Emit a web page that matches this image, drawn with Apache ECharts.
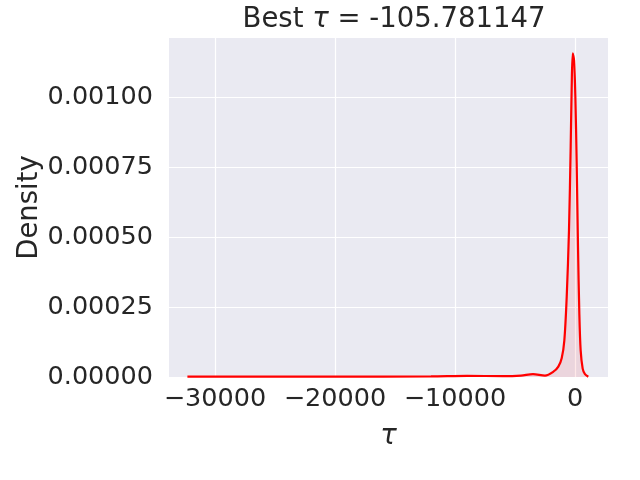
<!DOCTYPE html>
<html>
<head>
<meta charset="utf-8">
<script src="https://cdn.jsdelivr.net/npm/echarts@6/dist/echarts.min.js"></script>
<style>html,body{margin:0;padding:0;background:#fff;}#c{width:640px;height:480px;}</style>
</head>
<body>
<div id="c"></div>
<script>
const tauValues = [-32300, -28000, -20000, -12000, -9000, -6000, -4500, -3500, -2500, -1800, -1390, -1110, -890, -690, -500, -360, -280, -190, -80, 30, 140, 250, 360, 470, 640, 830, 1110];
const densityValues = [0.000001, 0.000001, 0.000001, 0.000002, 0.000004, 0.000003, 0.000005, 0.00001, 0.000005, 0.000019, 0.000037, 0.000067, 0.00013, 0.000287, 0.000525, 0.000823, 0.001025, 0.001156, 0.001132, 0.001001, 0.000764, 0.000465, 0.000229, 0.000096, 0.00003, 0.00001, 0.000001];
const xTicks = [-30000, -20000, -10000, 0];
const yTicks = [0, 0.00025, 0.0005, 0.00075, 0.001];

const font = 'DejaVu Sans';
const txt = '#262626';
const chart = echarts.init(document.getElementById('c'), null, {renderer: 'canvas'});
chart.setOption({
  backgroundColor: '#ffffff',
  animation: false,
  title: {
    text: '{n|Best }{i|τ}{n| = -105.781147}',
    left: 389, textAlign: 'center', top: 1,
    textStyle: {
      rich: {
        n: {fontFamily: font, fontSize: 27.5, color: txt, fontWeight: 'normal'},
        i: {fontFamily: font, fontSize: 27.5, color: txt, fontStyle: 'italic', fontWeight: 'normal'}
      }
    }
  },
  grid: {left: 169, right: 32, top: 38, bottom: 103, show: true, backgroundColor: '#eaeaf2', borderWidth: 0},
  xAxis: {
    type: 'value', min: -33833, max: 2750,
    name: 'τ', nameLocation: 'middle', nameGap: 46, nameMoveOverlap: false,
    nameTextStyle: {fontFamily: font, fontSize: 27.5, color: txt, fontStyle: 'italic'},
    axisLine: {show: false}, axisTick: {show: false, customValues: xTicks},
    axisLabel: {customValues: xTicks, fontFamily: font, fontSize: 25.5, color: txt, margin: 9,
      formatter: v => (v < 0 ? '\u2212' + Math.abs(v) : String(v))},
    splitLine: {show: true, lineStyle: {color: '#ffffff', width: 1.2}}
  },
  yAxis: {
    type: 'value', min: 0, max: 0.0012107,
    name: 'Density', nameLocation: 'middle', nameGap: 125, nameMoveOverlap: false,
    nameTextStyle: {fontFamily: font, fontSize: 27.5, color: txt},
    axisLine: {show: false}, axisTick: {show: false, customValues: yTicks},
    axisLabel: {customValues: yTicks, fontFamily: font, fontSize: 25.5, color: txt, margin: 16,
      formatter: v => v.toFixed(5)},
    splitLine: {show: true, lineStyle: {color: '#ffffff', width: 1.2}}
  },
  series: [{
    type: 'line',
    data: tauValues.map((t, i) => [t, densityValues[i]]),
    smooth: 0.3,
    symbol: 'none',
    lineStyle: {color: '#ff0000', width: 2.2},
    areaStyle: {color: 'rgba(255,0,0,0.12)'},
    z: 3
  }]
});
</script>
</body>
</html>
